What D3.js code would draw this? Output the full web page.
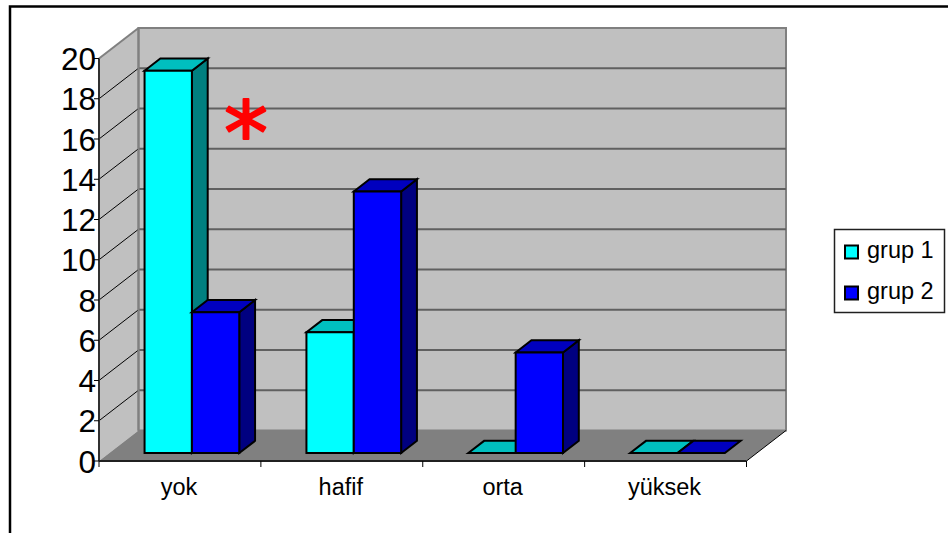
<!DOCTYPE html>
<html>
<head>
<meta charset="utf-8">
<script src="https://cdn.jsdelivr.net/npm/d3@7"></script>
<style>
  html, body { margin: 0; padding: 0; background: #fff; }
  svg { display: block; }
  text { font-family: "Liberation Sans", Arial, sans-serif; fill: #000; }
</style>
</head>
<body>
<svg id="chart" width="948" height="533"></svg>
<script>
const categories = ["yok", "hafif", "orta", "yüksek"];
const seriesNames = ["grup 1", "grup 2"];
const grup1 = [19, 6, 0, 0];
const grup2 = [7, 13, 5, 0];
const yTicks = [0, 2, 4, 6, 8, 10, 12, 14, 16, 18, 20];
const frontColors = ["#00ffff", "#0000ff"];
const topColors = ["#00bfbf", "#0000bf"];
const sideColors = ["#008080", "#000080"];

const svg = d3.select("#chart");

// Oblique projection: a point is placed by its front-plane position and its depth (0 front, 1 back)
const x = d3.scaleLinear().domain([0, 4]).range([99, 746.5]);
const y = d3.scaleLinear().domain([0, 20]).range([461, 58.5]);
const depthX = d3.scaleLinear().domain([0, 1]).range([0, 39.5]);
const depthY = d3.scaleLinear().domain([0, 1]).range([0, -30.5]);
const px = (c, d) => x(c) + depthX(d);
const py = (v, d) => y(v) + depthY(d);
const line = d3.line();
const pt = (c, v, d) => [px(c, d), py(v, d)];
const poly = pts => line(pts) + "Z";

const wallGrey = "#c0c0c0", floorGrey = "#808080", edgeGrey = "#808080";

// Outer chart frame
svg.append("path").attr("d", "M10,533V6.5H948").attr("fill", "none").attr("stroke", "#000").attr("stroke-width", 2.5);

// Side wall, back wall, floor
svg.append("path").attr("d", poly([pt(0, 0, 0), pt(0, 20, 0), pt(0, 20, 1), pt(0, 0, 1)]))
  .attr("fill", wallGrey);
svg.append("path").attr("d", poly([pt(0, 0, 1), pt(0, 20, 1), pt(4, 20, 1), pt(4, 0, 1)]))
  .attr("fill", wallGrey).attr("stroke", edgeGrey).attr("stroke-width", 2);
svg.append("path").attr("d", poly([pt(0, 0, 0), pt(0, 0, 1), pt(4, 0, 1), pt(4, 0, 0)]))
  .attr("fill", floorGrey);

// Gridlines: thin across the side wall, heavier across the back wall
const gridTicks = yTicks.filter(v => v > 0 && v < 20);
svg.append("g").selectAll("path").data(gridTicks).join("path")
  .attr("d", v => line([pt(0, v, 0), pt(0, v, 1)]))
  .attr("stroke", "#000").attr("stroke-width", 1).attr("fill", "none");
svg.append("g").selectAll("path").data(gridTicks).join("path")
  .attr("d", v => line([pt(0, v, 1), pt(4, v, 1)]))
  .attr("stroke", "#606060").attr("stroke-width", 2).attr("fill", "none");

// Wall and floor edges
svg.append("path").attr("d", line([pt(0, 20, 0), pt(0, 20, 1)])).attr("stroke", edgeGrey).attr("stroke-width", 2).attr("fill", "none");
svg.append("path").attr("d", line([pt(0, 0, 1), pt(0, 20, 1)])).attr("stroke", edgeGrey).attr("stroke-width", 2).attr("fill", "none");
svg.append("path").attr("d", line([pt(4, 0, 0), pt(4, 0, 1)])).attr("stroke", "#000").attr("stroke-width", 1).attr("fill", "none");

// Bars occupy a fixed slice of each category, and of the floor's depth
const barDepthStart = 0.26, barDepthEnd = 0.66;
const barOffset = 0.218, barWidth = 0.2925;

function drawBar(g, cat, seriesIndex, value) {
  const c0 = cat + barOffset + seriesIndex * barWidth;
  const c1 = c0 + barWidth;
  const d0 = barDepthStart, d1 = barDepthEnd;
  const stroke = { stroke: "#000", "stroke-width": 2, "stroke-linejoin": "miter" };
  const face = (pts, fill) => {
    const p = g.append("path").attr("d", poly(pts)).attr("fill", fill);
    Object.entries(stroke).forEach(([k, v]) => p.attr(k, v));
  };
  if (value > 0) {
    face([pt(c1, 0, d0), pt(c1, value, d0), pt(c1, value, d1), pt(c1, 0, d1)], sideColors[seriesIndex]);
  }
  face([pt(c0, value, d0), pt(c0, value, d1), pt(c1, value, d1), pt(c1, value, d0)], topColors[seriesIndex]);
  if (value > 0) {
    face([pt(c0, 0, d0), pt(c0, value, d0), pt(c1, value, d0), pt(c1, 0, d0)], frontColors[seriesIndex]);
  }
}

const bars = svg.append("g");
categories.forEach((name, i) => {
  drawBar(bars, i, 0, grup1[i]);
  drawBar(bars, i, 1, grup2[i]);
});

// Value axis
const axisG = svg.append("g");
axisG.append("path").attr("d", line([pt(0, 0, 0), pt(0, 20, 0)])).attr("stroke", "#303030").attr("stroke-width", 2).attr("fill", "none");
axisG.selectAll("line").data(yTicks).join("line")
  .attr("x1", x(0) - 5).attr("x2", x(0))
  .attr("y1", v => y(v)).attr("y2", v => y(v))
  .attr("stroke", "#000");
axisG.selectAll("text").data(yTicks).join("text")
  .attr("x", 96).attr("y", v => y(v) + 11.5)
  .attr("text-anchor", "end").attr("font-size", 31.5).text(v => v);

// Category axis
const catG = svg.append("g");
catG.append("path").attr("d", line([pt(0, 0, 0), pt(4, 0, 0)])).attr("stroke", "#202020").attr("stroke-width", 2).attr("fill", "none");
catG.selectAll("line").data(d3.range(5)).join("line")
  .attr("x1", d => x(d)).attr("x2", d => x(d)).attr("y1", 461).attr("y2", 467)
  .attr("stroke", "#000");
catG.selectAll("text").data(categories).join("text")
  .attr("x", (d, i) => x(i + 0.5) - 1).attr("y", 495)
  .attr("text-anchor", "middle").attr("font-size", 23.5).text(d => d);

// Significance marker, thickened with a rounded red outline
svg.append("text").attr("x", 246).attr("y", 164).attr("text-anchor", "middle")
  .attr("font-size", 88).style("font-family", "'DejaVu Sans'").style("fill", "#ff0000")
  .style("stroke", "#ff0000").style("stroke-width", 2).style("stroke-linejoin", "round").text("*");

// Legend
const legend = svg.append("g");
legend.append("rect").attr("x", 834.5).attr("y", 229.5).attr("width", 110).attr("height", 83)
  .attr("fill", "#fff").attr("stroke", "#202020").attr("stroke-width", 1.5);
const legendRow = d3.scalePoint().domain(seriesNames).range([252, 293]);
seriesNames.forEach((name, i) => {
  legend.append("rect").attr("x", 845).attr("y", legendRow(name) - 6.5).attr("width", 13).attr("height", 13)
    .attr("fill", frontColors[i]).attr("stroke", "#000").attr("stroke-width", 2);
  legend.append("text").attr("x", 867).attr("y", legendRow(name) + 6).attr("font-size", 23.5).text(name);
});
</script>
</body>
</html>
